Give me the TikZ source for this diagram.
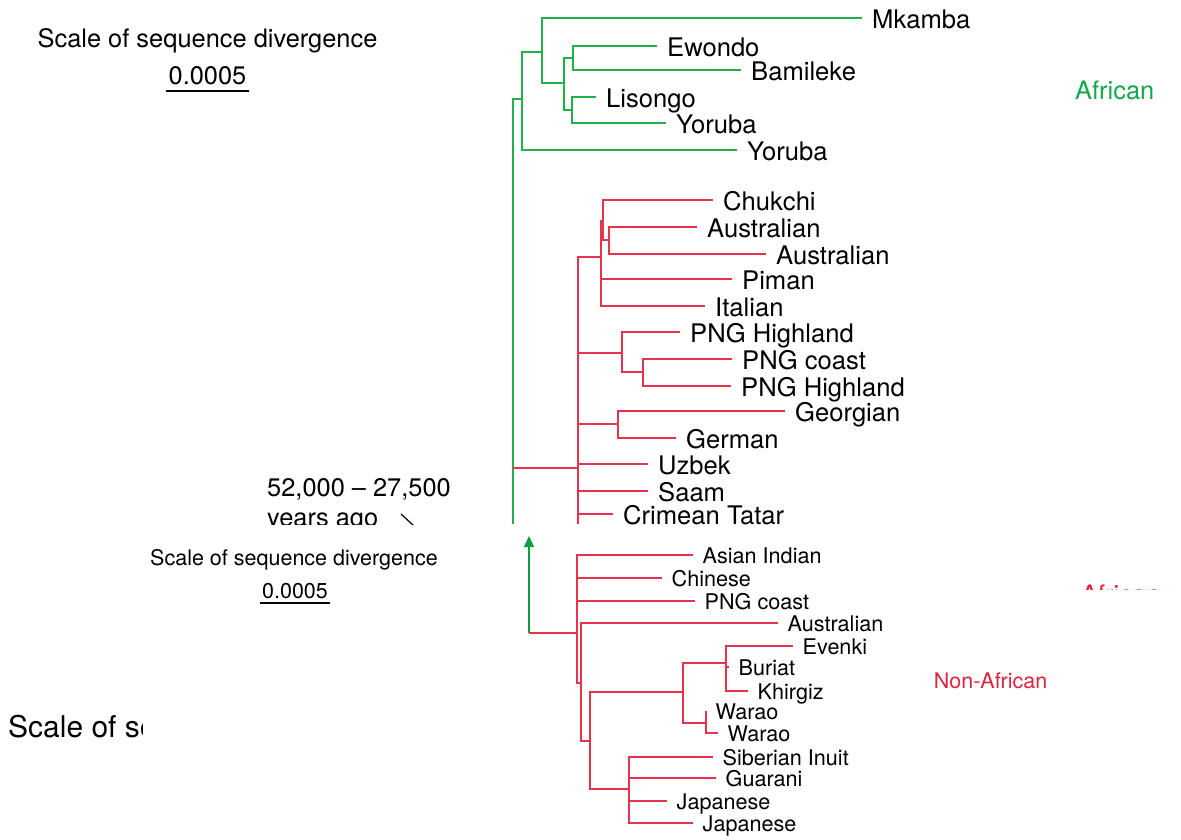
\documentclass[tikz,border=0pt]{standalone}
\usepackage{fontspec}
\setmainfont{TeX Gyre Heros}
\usetikzlibrary{arrows.meta}
\definecolor{afgreen}{HTML}{22B04B}
\definecolor{nared}{HTML}{E8334F}
\definecolor{aftext}{HTML}{10A84A}
\definecolor{natext}{HTML}{E0223F}
\definecolor{arrgreen}{HTML}{0A9E3C}

\begin{document}
\begin{tikzpicture}[x=1pt, y=-1pt,
  af/.style={afgreen, line width=1.4pt},
  na/.style={nared, line width=1.4pt},
  tip/.style={anchor=west, inner xsep=10pt, inner ysep=0pt, text height=21pt, text depth=0pt, font=\fontsize{25.6}{30}\selectfont},
  tipsm/.style={tip, inner xsep=9.5pt, text height=17pt, font=\fontsize{21.6}{25}\selectfont},
  big/.style={font=\fontsize{25.4}{30}\selectfont, inner sep=2pt},
  small/.style={font=\fontsize{21.5}{26}\selectfont, inner sep=1.7pt}]
\useasboundingbox (0,0) rectangle (1181,839);

\begin{scope}
\clip (0,0) rectangle (1181,524);
\node[big, anchor=base] (sc1) at (207.5,47) {Scale of sequence divergence};
\node[big, anchor=base] (bar1) at (207.5,84) {0.0005};
\draw[line width=1.2pt] ([yshift=-7pt]bar1.base west) -- ([yshift=-7pt]bar1.base east);
\node[big, anchor=base west, text=aftext] (afr) at (1073,99) {African};
\node[big, anchor=base west, inner sep=0pt] (age) at (267,496) {52,000 -- 27,500};
\node[big, anchor=base west, inner sep=0pt] (ago) at (267,526) {years ago};
\draw[line width=1.2pt] (401,514) -- (414,526);

\coordinate (gr) at (513,524);
\coordinate (g1) at (522,99);
\coordinate (g2) at (542,52);
\coordinate (g3) at (564,83);
\coordinate (g4) at (573,58);
\coordinate (g5) at (572,110);
\node[tip] (mk) at (862,18) {Mkamba};
\node[tip] (ew) at (657,46) {Ewondo};
\node[tip] (bm) at (741,70) {Bamileke};
\node[tip] (ls) at (596,97) {Lisongo};
\node[tip] (yo1) at (666,123) {Yoruba};
\node[tip] (yo2) at (737,150) {Yoruba};
\draw[af] (gr) |- (g1);
\draw[af] (g1) |- (g2);
\draw[af] (g1) |- (yo2);
\draw[af] (g2) |- (mk);
\draw[af] (g2) |- (g3);
\draw[af] (g3) |- (g4);
\draw[af] (g3) |- (g5);
\draw[af] (g4) |- (ew);
\draw[af] (g4) |- (bm);
\draw[af] (g5) |- (ls);
\draw[af] (g5) |- (yo1);

\coordinate (r0) at (578,468);
\coordinate (r1) at (601,257);
\coordinate (r2) at (603,221);
\coordinate (r2b) at (609,240);
\coordinate (r3) at (622,353);
\coordinate (r4) at (643,372);
\coordinate (r5) at (618,424);
\node[tip] (ch) at (713,200) {Chukchi};
\node[tip] (au1) at (697,227) {Australian};
\node[tip] (au2) at (766,254) {Australian};
\node[tip] (pi) at (732,279) {Piman};
\node[tip] (it) at (705,306) {Italian};
\node[tip] (ph1) at (680,332) {PNG Highland};
\node[tip] (pc1) at (732,359) {PNG coast};
\node[tip] (ph2) at (731,386) {PNG Highland};
\node[tip] (ge) at (785,411) {Georgian};
\node[tip] (gm) at (676,438) {German};
\node[tip] (uz) at (648,464) {Uzbek};
\node[tip] (sa) at (648,491) {Saam};
\node[tip] (ct) at (613,514) {Crimean Tatar};
\draw[na] (gr |- r0) -- (r0);
\draw[na] (r0) -- (r0 |- gr);
\draw[na] (r0) |- (r1);
\draw[na] (r0) |- (r3);
\draw[na] (r0) |- (r5);
\draw[na] (r0) |- (uz);
\draw[na] (r0) |- (sa);
\draw[na] (r0) |- (ct);
\draw[na] (r1) |- (r2);
\draw[na] (r1) |- (pi);
\draw[na] (r1) |- (it);
\draw[na] (r2) |- (ch);
\draw[na] (r2) |- (r2b);
\draw[na] (r2b) |- (au1);
\draw[na] (r2b) |- (au2);
\draw[na] (r3) |- (ph1);
\draw[na] (r3) |- (r4);
\draw[na] (r4) |- (pc1);
\draw[na] (r4) |- (ph2);
\draw[na] (r5) |- (ge);
\draw[na] (r5) |- (gm);
\end{scope}

\node[small, anchor=base] (sc2) at (294,565) {Scale of sequence divergence};
\node[small, anchor=base] (bar2) at (295,598) {0.0005};
\draw[line width=1.2pt] ([yshift=-5pt]bar2.base west) -- ([yshift=-5pt]bar2.base east);
\node[small, anchor=base west, text=natext] (nafr) at (932,688) {Non-African};
\begin{scope}
\clip (1040,570) rectangle (1181,589);
\node[big, anchor=base west, text=natext] (afr2) at (1079,603) {African};
\end{scope}
\begin{scope}
\clip (0,690) rectangle (142,760);
\node[font=\fontsize{30}{36}\selectfont, anchor=base west, inner sep=0pt] (sc3) at (8,737) {Scale of sequence divergence};
\end{scope}

\coordinate (ba) at (529,633);
\coordinate (bt) at (529,536);
\coordinate (b0) at (577,633);
\coordinate (b1) at (581,683);
\coordinate (b2) at (590,741);
\coordinate (b3) at (683,692);
\coordinate (b4) at (726,663);
\coordinate (b5) at (706,723);
\coordinate (b6) at (629,789);
\node[tipsm] (ai) at (693,555) {Asian Indian};
\node[tipsm] (cn) at (662,578) {Chinese};
\node[tipsm] (pc2) at (695,601) {PNG coast};
\node[tipsm] (au3) at (778,623) {Australian};
\node[tipsm] (ev) at (793,646) {Evenki};
\node[tipsm] (bu) at (729,667) {Buriat};
\node[tipsm] (kh) at (748,691) {Khirgiz};
\node[tipsm] (wa1) at (706,711) {Warao};
\node[tipsm] (wa2) at (718,733) {Warao};
\node[tipsm] (si) at (713,757) {Siberian Inuit};
\node[tipsm] (gu) at (716,778) {Guarani};
\node[tipsm] (ja1) at (667,801) {Japanese};
\node[tipsm] (ja2) at (693,823) {Japanese};
\draw[arrgreen, line width=1.4pt, -{Triangle[length=11pt,width=10pt]}] (ba) -- (bt);
\draw[na] (ba) -- (b0);
\draw[na] (b0) |- (ai);
\draw[na] (b0) |- (cn);
\draw[na] (b0) |- (pc2);
\draw[na] (b0) |- (b1);
\draw[na] (b1) |- (au3);
\draw[na] (b1) |- (b2);
\draw[na] (b2) |- (b3);
\draw[na] (b2) |- (b6);
\draw[na] (b3) |- (b4);
\draw[na] (b3) |- (b5);
\draw[na] (b4) |- (ev);
\draw[na] (b4) |- (bu);
\draw[na] (b4) |- (kh);
\draw[na] (b5) |- (wa1);
\draw[na] (b5) |- (wa2);
\draw[na] (b6) |- (si);
\draw[na] (b6) |- (gu);
\draw[na] (b6) |- (ja1);
\draw[na] (b6) |- (ja2);
\end{tikzpicture}
\end{document}
